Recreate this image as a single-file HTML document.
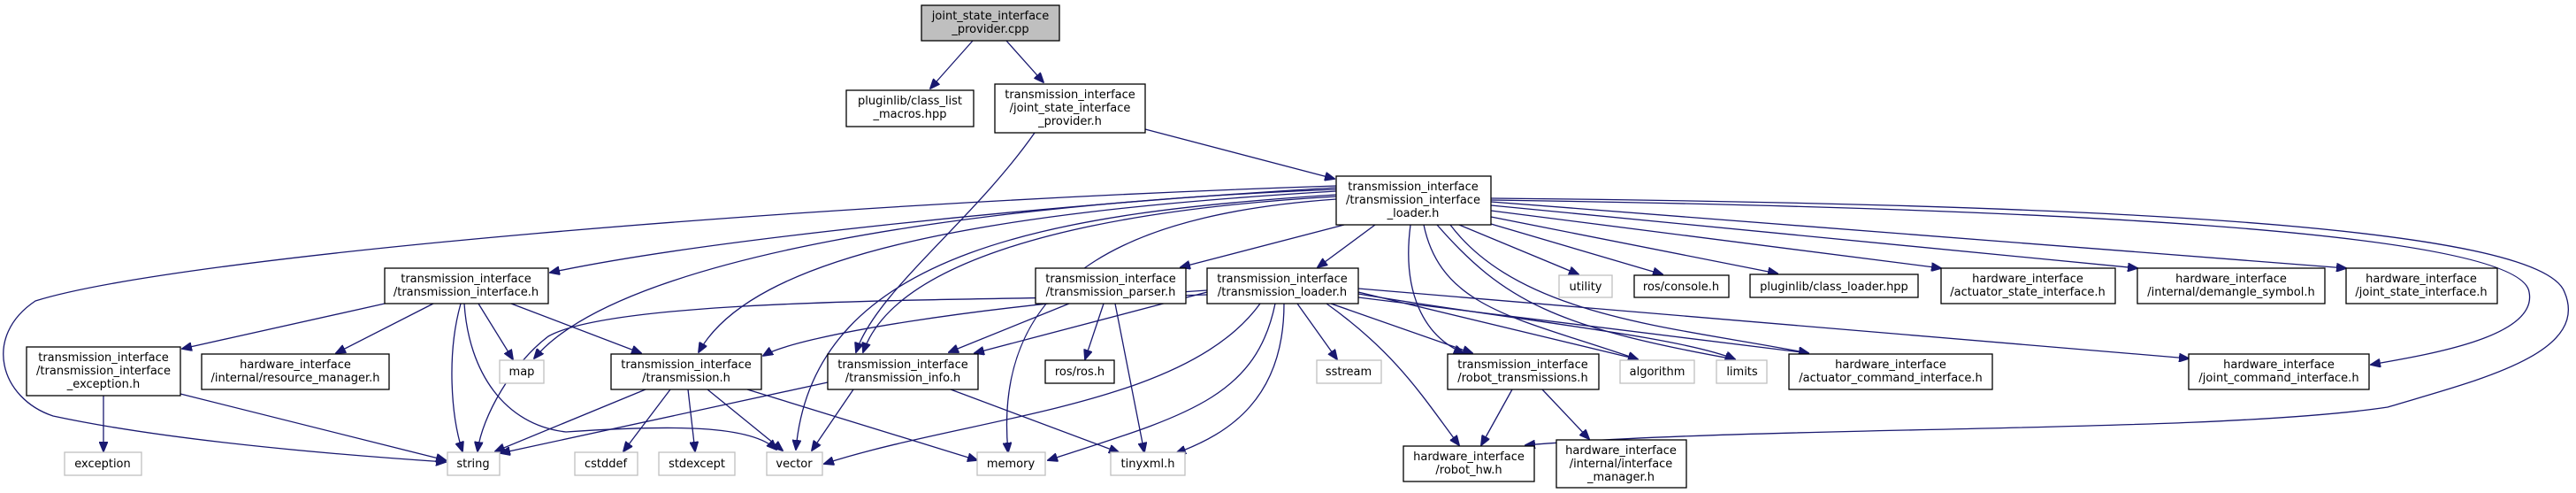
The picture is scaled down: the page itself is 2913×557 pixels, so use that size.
<!DOCTYPE html>
<html><head><meta charset="utf-8"><style>
html,body{margin:0;padding:0;background:#fff;}
svg{display:block;}
text{font-family:"DejaVu Sans","Liberation Sans",sans-serif;font-size:13px;fill:#000;}
.b{fill:#fff;stroke:#000;stroke-width:1.3;}
.g{fill:#fff;stroke:#bfbfbf;stroke-width:1.3;}
.r{fill:#bfbfbf;stroke:#000;stroke-width:1.3;}
path{fill:none;stroke:#191970;stroke-width:1.3;marker-end:url(#a);}
</style></head><body>
<svg width="2913" height="557" viewBox="0 0 2913 557" xmlns="http://www.w3.org/2000/svg">
<defs><marker id="a" markerWidth="12" markerHeight="10" refX="11" refY="5" orient="auto" markerUnits="userSpaceOnUse"><polygon points="0,0 12,5 0,10" fill="#191970" stroke="#191970"/></marker></defs>
<g text-anchor="middle">
<!-- edges -->
<path d="M1100,46 L1052,100"/>
<path d="M1138,46 L1180,93"/>
<path d="M1295,146 L1509,202"/>
<path d="M1170,150 C1100,250 990,330 968,398"/>
<path d="M1511,210 C900,230 200,290 40,340 C-20,380 0,450 60,470 C200,500 400,515 504,522"/>
<path d="M1511,212 C1200,230 800,270 622,308"/>
<path d="M1511,214 C1100,230 700,290 604,405"/>
<path d="M1511,216 C1100,240 850,290 790,398"/>
<path d="M1511,220 C1200,240 920,280 900,508"/>
<path d="M1511,222 C1200,240 1010,300 976,398"/>
<path d="M1511,225 C1300,240 1120,300 1140,511"/>
<path d="M1520,254 L1335,302"/>
<path d="M1555,254 L1490,302"/>
<path d="M1650,254 L1785,310"/>
<path d="M1686,253 L1880,310"/>
<path d="M1686,245 L2010,309"/>
<path d="M1686,238 L2195,303"/>
<path d="M1686,232 L2417,303"/>
<path d="M1686,228 L2653,303"/>
<path d="M1686,226 C2300,235 2850,260 2860,330 C2870,380 2750,400 2681,412"/>
<path d="M1686,224 C2300,230 2870,250 2900,330 C2930,400 2800,430 2700,460 C2500,490 2000,480 1725,503"/>
<path d="M1595,254 C1585,330 1610,380 1655,399"/>
<path d="M1610,254 C1630,350 1720,360 1852,406"/>
<path d="M1625,254 C1700,340 1760,370 1962,406"/>
<path d="M1640,254 C1720,360 1900,370 2045,399"/>
<path d="M1365,330 L1102,399"/>
<path d="M1365,333 C1100,340 700,335 620,380 C580,410 545,470 540,510"/>
<path d="M1365,328 C1100,345 900,380 863,402"/>
<path d="M1425,343 C1340,460 1100,470 932,524"/>
<path d="M1442,343 C1420,450 1340,470 1185,520"/>
<path d="M1452,343 C1452,450 1390,490 1330,512"/>
<path d="M1467,343 L1512,406"/>
<path d="M1500,343 C1580,400 1610,450 1650,503"/>
<path d="M1505,343 L1665,399"/>
<path d="M1536,330 L1852,406"/>
<path d="M1536,332 C1700,360 1900,380 1962,406"/>
<path d="M1536,336 L2045,399"/>
<path d="M1536,326 L2475,405"/>
<path d="M1209,343 L1073,398"/>
<path d="M1248,343 L1227,406"/>
<path d="M1261,343 L1294,511"/>
<path d="M435,343 L206,394"/>
<path d="M490,343 L380,399"/>
<path d="M521,343 C505,400 510,470 523,510"/>
<path d="M541,343 L580,406"/>
<path d="M578,343 L725,399"/>
<path d="M525,343 C530,420 570,480 640,488 C760,480 850,480 878,508"/>
<path d="M117,447 L117,510"/>
<path d="M204,445 L504,520"/>
<path d="M730,440 L560,510"/>
<path d="M758,440 L705,510"/>
<path d="M778,440 L786,510"/>
<path d="M800,440 L885,509"/>
<path d="M845,440 L1105,520"/>
<path d="M936,432 L566,512"/>
<path d="M965,440 L918,509"/>
<path d="M1075,440 L1265,511"/>
<path d="M1710,440 L1675,503"/>
<path d="M1744,440 L1797,496"/>
<!-- nodes -->
<rect class="r" x="1042" y="6" width="156" height="40"/><text x="1120" y="22">joint_state_interface</text><text x="1120" y="37">_provider.cpp</text>
<rect class="b" x="957" y="102" width="144" height="41"/><text x="1029" y="118">pluginlib/class_list</text><text x="1029" y="133">_macros.hpp</text>
<rect class="b" x="1125" y="95" width="170" height="55"/><text x="1210" y="111">transmission_interface</text><text x="1210" y="126">/joint_state_interface</text><text x="1210" y="141">_provider.h</text>
<rect class="b" x="1511" y="199" width="175" height="55"/><text x="1598" y="215">transmission_interface</text><text x="1598" y="230">/transmission_interface</text><text x="1598" y="245">_loader.h</text>
<rect class="b" x="435" y="303" width="185" height="40"/><text x="527" y="319">transmission_interface</text><text x="527" y="334">/transmission_interface.h</text>
<rect class="b" x="1171" y="303" width="170" height="40"/><text x="1256" y="319">transmission_interface</text><text x="1256" y="334">/transmission_parser.h</text>
<rect class="b" x="1365" y="303" width="171" height="40"/><text x="1450" y="319">transmission_interface</text><text x="1450" y="334">/transmission_loader.h</text>
<rect class="g" x="1763" y="311" width="60" height="25"/><text x="1793" y="328">utility</text>
<rect class="b" x="1848" y="311" width="107" height="25"/><text x="1901" y="328">ros/console.h</text>
<rect class="b" x="1979" y="310" width="190" height="26"/><text x="2074" y="328">pluginlib/class_loader.hpp</text>
<rect class="b" x="2195" y="303" width="197" height="40"/><text x="2293" y="319">hardware_interface</text><text x="2293" y="334">/actuator_state_interface.h</text>
<rect class="b" x="2417" y="303" width="212" height="40"/><text x="2523" y="319">hardware_interface</text><text x="2523" y="334">/internal/demangle_symbol.h</text>
<rect class="b" x="2653" y="303" width="171" height="40"/><text x="2738" y="319">hardware_interface</text><text x="2738" y="334">/joint_state_interface.h</text>
<rect class="b" x="30" y="392" width="174" height="55"/><text x="117" y="408">transmission_interface</text><text x="117" y="423">/transmission_interface</text><text x="117" y="438">_exception.h</text>
<rect class="b" x="228" y="400" width="212" height="40"/><text x="334" y="416">hardware_interface</text><text x="334" y="431">/internal/resource_manager.h</text>
<rect class="g" x="565" y="407" width="50" height="26"/><text x="590" y="424">map</text>
<rect class="b" x="691" y="400" width="170" height="40"/><text x="776" y="416">transmission_interface</text><text x="776" y="431">/transmission.h</text>
<rect class="b" x="936" y="400" width="170" height="40"/><text x="1021" y="416">transmission_interface</text><text x="1021" y="431">/transmission_info.h</text>
<rect class="b" x="1182" y="407" width="78" height="26"/><text x="1221" y="424">ros/ros.h</text>
<rect class="g" x="1489" y="407" width="73" height="26"/><text x="1525" y="424">sstream</text>
<rect class="b" x="1637" y="400" width="171" height="40"/><text x="1722" y="416">transmission_interface</text><text x="1722" y="431">/robot_transmissions.h</text>
<rect class="g" x="1832" y="407" width="84" height="26"/><text x="1874" y="424">algorithm</text>
<rect class="g" x="1941" y="407" width="57" height="26"/><text x="1970" y="424">limits</text>
<rect class="b" x="2023" y="400" width="230" height="40"/><text x="2138" y="416">hardware_interface</text><text x="2138" y="431">/actuator_command_interface.h</text>
<rect class="b" x="2475" y="400" width="204" height="40"/><text x="2577" y="416">hardware_interface</text><text x="2577" y="431">/joint_command_interface.h</text>
<rect class="g" x="73" y="511" width="87" height="26"/><text x="116" y="528">exception</text>
<rect class="g" x="506" y="511" width="59" height="26"/><text x="535" y="528">string</text>
<rect class="g" x="650" y="511" width="71" height="26"/><text x="685" y="528">cstddef</text>
<rect class="g" x="745" y="511" width="86" height="26"/><text x="788" y="528">stdexcept</text>
<rect class="g" x="867" y="511" width="63" height="26"/><text x="898" y="528">vector</text>
<rect class="g" x="1105" y="511" width="77" height="26"/><text x="1143" y="528">memory</text>
<rect class="g" x="1256" y="511" width="84" height="26"/><text x="1298" y="528">tinyxml.h</text>
<rect class="b" x="1587" y="504" width="148" height="40"/><text x="1661" y="520">hardware_interface</text><text x="1661" y="535">/robot_hw.h</text>
<rect class="b" x="1760" y="497" width="147" height="54"/><text x="1833" y="513">hardware_interface</text><text x="1833" y="528">/internal/interface</text><text x="1833" y="543">_manager.h</text>
</g>
</svg>
</body></html>
